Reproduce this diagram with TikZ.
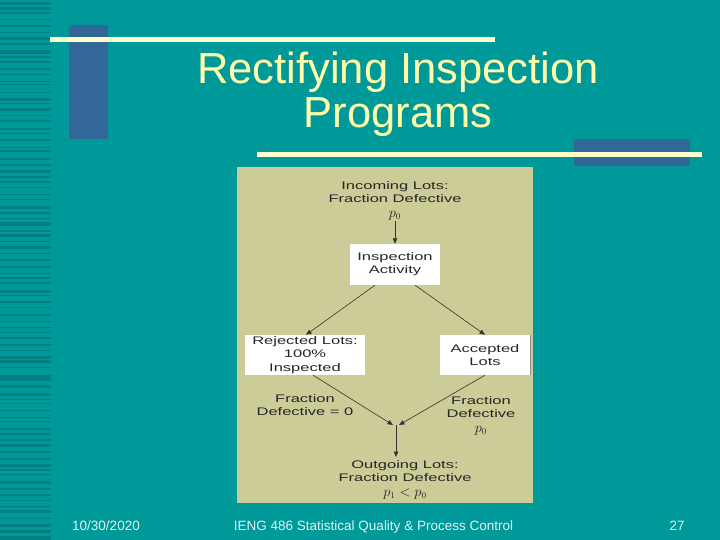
\documentclass[tikz,border=0pt]{standalone}
\usepackage{fontspec}
\setmainfont{Liberation Sans}
\newfontfamily\panelfont[FakeStretch=1.5]{Liberation Sans}
\usetikzlibrary{arrows.meta}
\definecolor{slidebg}{RGB}{0, 153, 153}
\definecolor{stripecol}{RGB}{0, 128, 128}
\definecolor{barblue}{RGB}{51, 102, 153}
\definecolor{cream}{RGB}{255, 255, 204}
\definecolor{titlecol}{RGB}{255, 255, 170}
\definecolor{panelcol}{RGB}{204, 204, 153}
\definecolor{foottxt}{RGB}{220, 245, 245}
\newcommand{\pvar}[1]{{\fontsize{13.5}{15}\selectfont$#1$}}

\begin{document}
\begin{tikzpicture}[
  x=1pt,y=-1pt,
  >={Triangle[length=5.5pt,width=4.5pt]},
  boxw/.style={fill=white,inner sep=0pt,align=center,text=black!85,
               font=\panelfont\fontsize{11}{13.2}\selectfont},
  lbl/.style={inner sep=0pt,align=center,text=black!85,
              font=\panelfont\fontsize{11}{13.5}\selectfont},
  flow/.style={->,line width=0.6pt,black!80},
  foot/.style={anchor=base,text=foottxt,font=\fontsize{13.5}{16}\selectfont},
]
  \useasboundingbox (0,0) rectangle (720,540);

  % --- slide background ---
  \fill[slidebg] (0,0) rectangle (720,540);
  \pgfmathsetseed{11}
  \foreach \i in {0,...,89} {
    \pgfmathsetmacro\sy{\i*6+3*rnd}
    \pgfmathsetmacro\sh{0.8+2.6*rnd}
    \fill[stripecol] (0,\sy) rectangle (51,\sy+\sh);
  }

  % --- bars and rules ---
  \fill[barblue] (69,25) rectangle (108,139);
  \fill[barblue] (574,139) rectangle (690,166);
  \fill[cream] (50,37) rectangle (495,42);
  \fill[cream] (257,152) rectangle (702,157);

  % --- title ---
  \node[anchor=north,inner sep=0pt,align=center,text=titlecol,
        font=\fontsize{43.5}{44}\selectfont] (ttl) at (398,52)
    {Rectifying Inspection\\Programs};

  % --- flow chart panel ---
  \fill[panelcol] (237,167) rectangle (533,503);

  \node[lbl,anchor=north,inner sep=1pt] (inc) at (395,180)
    {Incoming Lots:\\Fraction Defective\\[1pt]\pvar{p_0}};
  \node[boxw,minimum width=90pt,minimum height=41pt] (insp) at (395,264.5)
    {Inspection\\Activity};
  \node[boxw,minimum width=120pt,minimum height=40pt] (rej) at (305,355)
    {Rejected Lots:\\100\%\\Inspected};
  \node[boxw,minimum width=90pt,minimum height=40pt] (acc) at (485,355)
    {Accepted\\Lots};
  \draw[black!45,line width=1pt] (acc.north east) -- (acc.south east);

  \node[lbl] (fd0) at (305,405) {Fraction\\Defective = 0};
  \node[lbl,anchor=north] (fdp) at (481,396)
    {Fraction\\Defective\\[1pt]\pvar{p_0}};
  \coordinate (mrg) at (396,425);
  \node[lbl,anchor=north,inner sep=1pt] (out) at (405,459)
    {Outgoing Lots:\\Fraction Defective\\[1pt]\pvar{p_1 < p_0}};

  \draw[flow] (inc) -- (insp);
  \draw[flow] ([xshift=-20pt]insp.south) -- ([xshift=1pt]rej.north);
  \draw[flow] ([xshift=20pt]insp.south) -- (acc.north);
  \draw[flow] ([xshift=8pt]rej.south) -- ([xshift=-3pt]mrg);
  \draw[flow] (acc.south) -- ([xshift=3pt]mrg);
  \draw[flow,shorten >=2pt] (mrg) -- (mrg |- out.north);

  % --- footer ---
  \node[foot] (dt) at (106,530) {10/30/2020};
  \node[foot] (crs) at (373.5,530) {IENG 486 Statistical Quality \& Process Control};
  \node[foot] (pg) at (677,530) {27};

\end{tikzpicture}
\end{document}
